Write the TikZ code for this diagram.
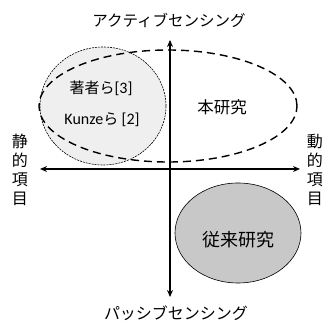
\documentclass[tikz,border=0pt]{standalone}
\usepackage{fontspec}
\setmainfont{Carlito}
\newfontfamily\jp{Noto Sans CJK JP}
\usetikzlibrary{arrows.meta,shapes.geometric}
\definecolor{lightfill}{HTML}{EFEFEF}
\definecolor{darkfill}{HTML}{C8C8C8}
\newcommand{\latin}[1]{{\fontsize{16}{18}\selectfont\rmfamily #1}}
\begin{document}
\begin{tikzpicture}[x=1pt,y=-1pt,
  axis/.style={line width=1.2pt,-{Stealth[length=7pt,width=6pt]}},
  blob/.style={ellipse,inner sep=0pt},
  lbl/.style={font=\jp\fontsize{15.5}{18}\selectfont,inner sep=0pt},
  vlbl/.style={font=\jp\fontsize{16}{19}\selectfont,inner sep=0pt,align=center}]
\useasboundingbox (0,0) rectangle (325,323);
% small circle
\node[blob,draw,line width=0.6pt,dash pattern=on 2pt off 1pt,fill=lightfill,minimum width=126pt,minimum height=118pt] (auth) at (103,106) {};
% big dashed ellipse
\node[blob,draw,line width=1.4pt,dash pattern=on 8pt off 5pt,minimum width=258pt,minimum height=112pt] (this) at (168,106) {};
% gray ellipse
\node[blob,draw,line width=0.6pt,fill=darkfill,minimum width=126pt,minimum height=100pt] (prev) at (238,233) {};
% axes
\coordinate (c) at (170,169);
\coordinate (top) at (170,40);
\coordinate (bot) at (170,297);
\coordinate (lft) at (40,169);
\coordinate (rgt) at (300,169);
\draw[axis] (c) -- (top);
\draw[axis] (c) -- (bot);
\draw[axis] (c) -- (lft);
\draw[axis] (c) -- (rgt);
\node[lbl] (ta) at (169,20) {アクティブセンシング};
\node[lbl,font=\jp\fontsize{16}{18}\selectfont] (tp) at (176,313) {パッシブセンシング};
\node[vlbl] (ls) at (20,170) {静\\的\\項\\目};
\node[vlbl] (rs) at (315,170) {動\\的\\項\\目};
\node[lbl,font=\jp\fontsize{15}{18}\selectfont] (a1) at (101,88) {著者ら\latin{[3]}};
\node[lbl,font=\jp\fontsize{15}{18}\selectfont] (a2) at (102,120) {\latin{Kunze}ら \latin{[2]}};
\node[lbl,font=\jp\fontsize{16.5}{18}\selectfont] (hk) at (222,107) {本研究};
\node[lbl,font=\jp\fontsize{18}{20}\selectfont] (jr) at (239,240) {従来研究};
\end{tikzpicture}
\end{document}
